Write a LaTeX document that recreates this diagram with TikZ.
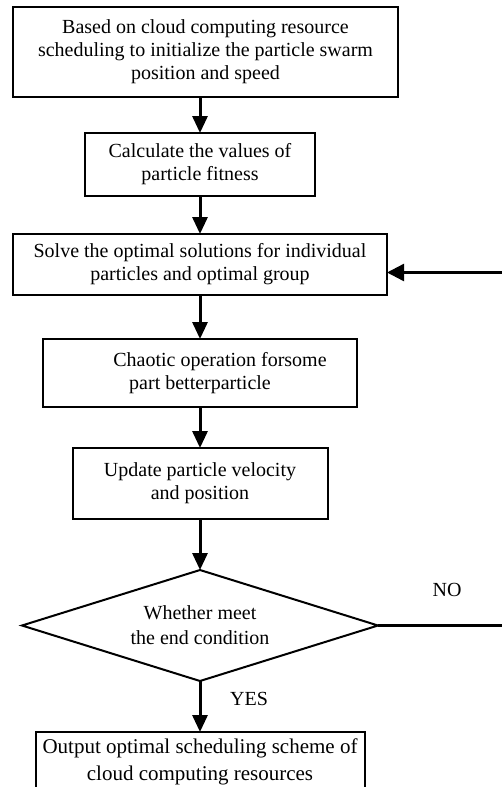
\documentclass[tikz,border=0pt]{standalone}
\usepackage{fontspec}
\setmainfont{Liberation Serif}
\usetikzlibrary{arrows.meta,positioning,shapes.geometric}

\begin{document}
\begin{tikzpicture}[
  font=\fontsize{10}{11.5}\selectfont, node distance=20pt,
  b/.style={draw, line width=1pt, align=center, inner sep=1pt, outer sep=0pt},
  d/.style={draw, diamond, line width=1pt, aspect=3.2, align=center, inner sep=0pt, outer sep=0pt, minimum width=178pt, minimum height=55.5pt},
  pf/.style={line width=1.5pt, -{Triangle[length=8.5pt,width=7.5pt]}},
  lp/.style={line width=1.2pt}
]
\useasboundingbox (0,0) rectangle (251pt,-393.5pt);
\node[b, minimum width=192.5pt, minimum height=45pt] (init) at (102.75pt,-26pt) {Based on cloud computing resource\\scheduling to initialize the particle swarm\\position and speed};
\node[b, below=18pt of init, xshift=-2.75pt, minimum width=115pt, minimum height=31.5pt] (fit) {Calculate the values of\\particle fitness};
\node[b, below=19pt of fit, minimum width=187pt, minimum height=30.5pt] (best) {Solve the optimal solutions for individual\\particles and optimal group};
\node[b, below=22pt of best, minimum width=157pt, minimum height=34pt] (chaos) {\hspace*{20pt}Chaotic operation forsome\\part betterparticle};
\node[b, below=20.5pt of chaos, minimum width=127.5pt, minimum height=35.5pt] (upd) {Update particle velocity\\and position};
\node[d, below=25.5pt of upd, font=\fontsize{10}{12.5}\selectfont] (end) {Whether meet\\the end condition};
\node[b, below=25.5pt of end, minimum width=164.5pt, minimum height=30pt, font=\fontsize{10.5}{13.5}\selectfont] (out) {Output optimal scheduling scheme of\\cloud computing resources};
\coordinate[right=69pt of end.east] (turn);

\draw[pf] (init.south -| fit.north)--(fit.north);
\draw[pf] (fit)--(best);
\draw[pf] (best)--(chaos);
\draw[pf] (chaos)--(upd);
\draw[pf] (upd)--(end);
\draw[pf] (end)-- node[pos=0.35, right=11pt]{YES} (out);
\draw[lp] (end.east)-- node[above=10.5pt]{NO} (turn);
\draw[lp, -{Triangle[length=8.5pt,width=8.5pt]}] (turn) |- ([yshift=-4pt]best.east);
\end{tikzpicture}
\end{document}
